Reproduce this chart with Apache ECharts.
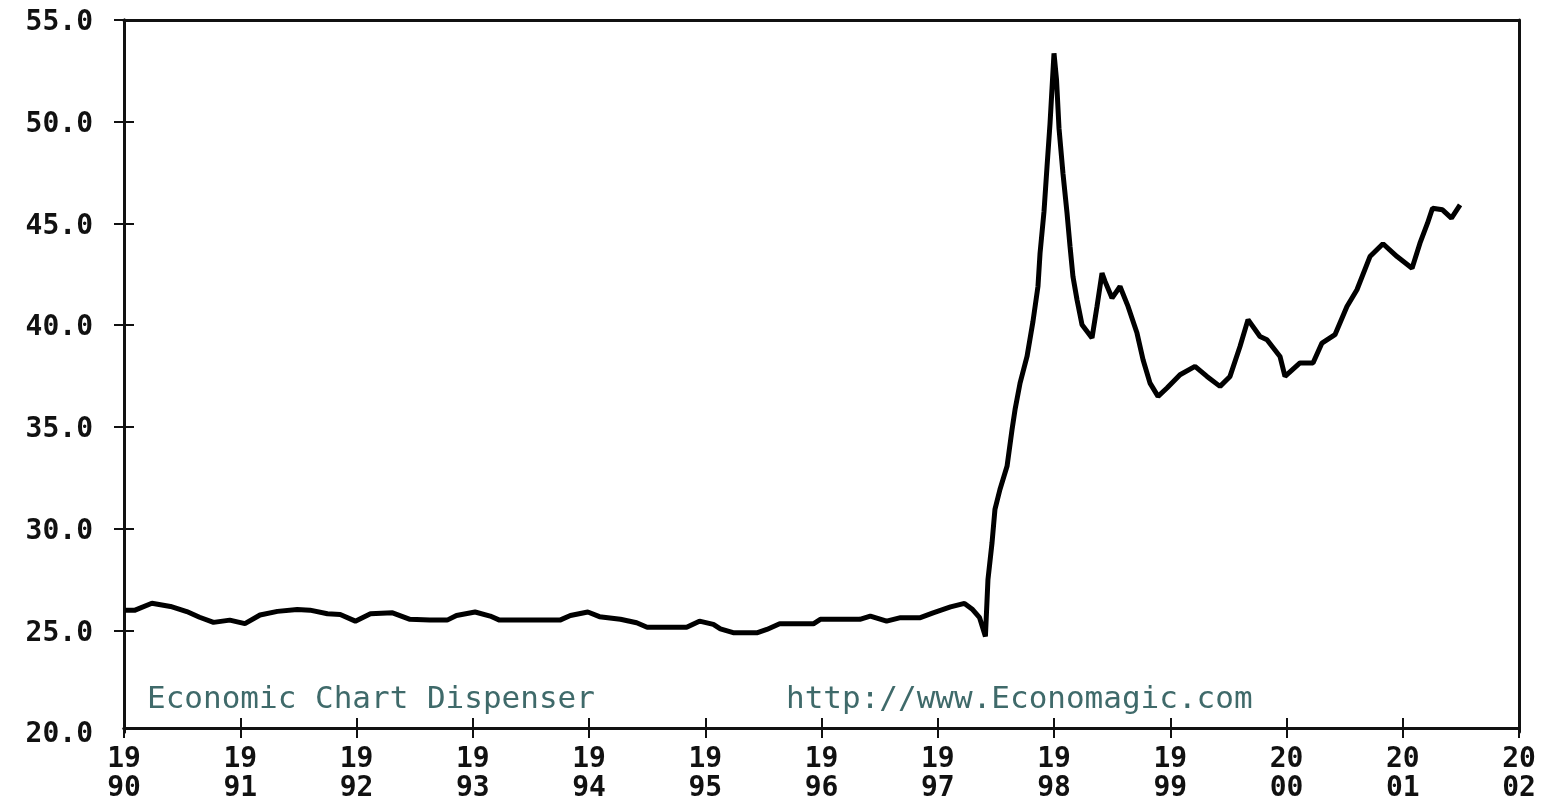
<!DOCTYPE html>
<html>
<head>
<meta charset="utf-8">
<script src="https://cdn.jsdelivr.net/npm/echarts@6/dist/echarts.min.js"></script>
<style>html,body{margin:0;padding:0;background:#fff}#c{width:1549px;height:806px}</style>
</head>
<body>
<div id="c"></div>
<script>
var years = [1990.01,1990.09,1990.24,1990.40,1990.54,1990.65,1990.77,1990.91,1991.04,1991.17,1991.32,1991.49,1991.60,1991.75,1991.86,1991.99,1992.12,1992.31,1992.46,1992.63,1992.78,1992.86,1993.02,1993.15,1993.23,1993.50,1993.75,1993.84,1993.99,1994.09,1994.27,1994.41,1994.50,1994.84,1994.95,1995.07,1995.13,1995.24,1995.45,1995.53,1995.64,1995.93,1995.99,1996.33,1996.42,1996.56,1996.68,1996.85,1996.96,1997.11,1997.23,1997.30,1997.36,1997.41,
1997.432,1997.467,1997.492,1997.535,1997.596,1997.639,1997.665,1997.708,1997.768,1997.819,1997.862,1997.880,1997.914,1997.940,1997.966,1997.987,1998.000,1998.022,1998.043,1998.077,1998.112,1998.138,1998.163,1998.198,1998.241,1998.327,1998.370,1998.413,1998.439,1998.499,1998.568,1998.637,1998.714,1998.766,1998.826,1998.895,1998.972,1999.084,1999.213,1999.316,1999.428,1999.514,1999.600,1999.669,1999.772,1999.832,1999.944,1999.987,2000.116,2000.228,2000.305,2000.417,2000.520,2000.606,2000.718,2000.830,2000.951,2001.080,2001.148,2001.213,2001.256,2001.342,2001.419,2001.493];
var values = [25.98,25.98,26.33,26.17,25.92,25.64,25.39,25.50,25.33,25.75,25.93,26.02,25.99,25.81,25.78,25.45,25.81,25.86,25.54,25.50,25.50,25.73,25.90,25.70,25.50,25.50,25.50,25.73,25.90,25.67,25.54,25.37,25.15,25.15,25.45,25.29,25.07,24.88,24.88,25.04,25.32,25.32,25.54,25.54,25.70,25.45,25.62,25.62,25.86,26.15,26.32,26.02,25.62,24.70,
27.50,29.31,30.94,31.92,33.06,34.86,35.85,37.15,38.46,40.18,41.90,43.54,45.58,47.79,49.93,52.05,53.36,52.05,49.68,47.47,45.51,43.87,42.39,41.25,40.02,39.37,40.92,42.56,42.15,41.33,41.90,40.92,39.61,38.30,37.15,36.50,36.91,37.56,37.97,37.48,36.99,37.48,38.95,40.27,39.44,39.28,38.46,37.48,38.14,38.14,39.12,39.53,40.92,41.74,43.37,44.00,43.37,42.80,44.03,45.01,45.75,45.67,45.26,45.91];
var yTicks = [25,30,35,40,45,50,55];
var yInnerTicks = [25,30,35,40,45,50];
var watermarkLeft = 'Economic Chart Dispenser';
var watermarkRight = 'http://www.Economagic.com';

var font = 'DejaVu Sans Mono';
var ink = '#111';
var data = years.map(function (y, i) { return [y, values[i]]; });

var chart = echarts.init(document.getElementById('c'));
var gridRect = { left: 124, right: 30, top: 20, bottom: 74 };
function xBase(g) { return { type: 'value', min: 1990, max: 2002, interval: 1, gridIndex: g, splitLine: { show: false } }; }
function yBase(g) { return { type: 'value', min: 20, max: 55, interval: 5, gridIndex: g, splitLine: { show: false } }; }
var tickStyle = { color: ink, width: 2 };
chart.setOption({
  animation: false,
  backgroundColor: '#fff',
  grid: [Object.assign({}, gridRect), Object.assign({}, gridRect)],
  xAxis: [
    Object.assign(xBase(0), {
      position: 'bottom', offset: -4,
      axisLine: { show: true, lineStyle: { color: ink, width: 3 } },
      axisTick: { show: true, inside: false, length: 10, lineStyle: tickStyle },
      axisLabel: {
        fontFamily: font, fontSize: 28, fontWeight: 'bold', lineHeight: 29, color: ink, margin: 17,
        formatter: function (v) { var s = String(v); return s.slice(0, 2) + '\n' + s.slice(2); }
      }
    }),
    Object.assign(xBase(0), {
      position: 'top',
      axisLine: { show: true, lineStyle: { color: ink, width: 3 } },
      axisTick: { show: false }, axisLabel: { show: false }
    }),
    Object.assign(xBase(1), {
      position: 'bottom', offset: -4,
      axisLine: { show: true, lineStyle: { color: ink, width: 3 } },
      axisTick: { show: true, inside: true, length: 10, customValues: [1990,1991,1992,1993,1994,1995,1996,1997,1998,1999,2000,2001], lineStyle: tickStyle },
      axisLabel: { show: false }
    })
  ],
  yAxis: [
    Object.assign(yBase(0), {
      position: 'left',
      axisLine: { show: true, lineStyle: { color: ink, width: 3 } },
      axisTick: { show: true, inside: false, length: 10, customValues: yTicks, lineStyle: tickStyle },
      axisLabel: {
        fontFamily: font, fontSize: 28, fontWeight: 'bold', color: ink, margin: 31,
        verticalAlign: 'top', padding: [-11, 0, 0, 0],
        formatter: function (v) { return v.toFixed(1); }
      }
    }),
    Object.assign(yBase(0), {
      position: 'right',
      axisLine: { show: true, lineStyle: { color: ink, width: 3 } },
      axisTick: { show: false }, axisLabel: { show: false }
    }),
    Object.assign(yBase(1), {
      position: 'left',
      axisLine: { show: true, lineStyle: { color: ink, width: 3 } },
      axisTick: { show: true, inside: true, length: 10, customValues: yInnerTicks, lineStyle: tickStyle },
      axisLabel: { show: false }
    })
  ],
  graphic: [
    { type: 'text', left: 147, top: 684, style: { text: watermarkLeft, font: '31px "DejaVu Sans Mono"', fill: '#3f6a6a' } },
    { type: 'text', left: 786, top: 684, style: { text: watermarkRight, font: '31px "DejaVu Sans Mono"', fill: '#3f6a6a' } }
  ],
  series: [{
    type: 'line', xAxisIndex: 0, yAxisIndex: 0, data: data,
    showSymbol: false, smooth: false,
    lineStyle: { color: '#000', width: 5 }
  }, {
    type: 'line', xAxisIndex: 2, yAxisIndex: 2, data: [], silent: true
  }]
});
</script>
</body>
</html>
